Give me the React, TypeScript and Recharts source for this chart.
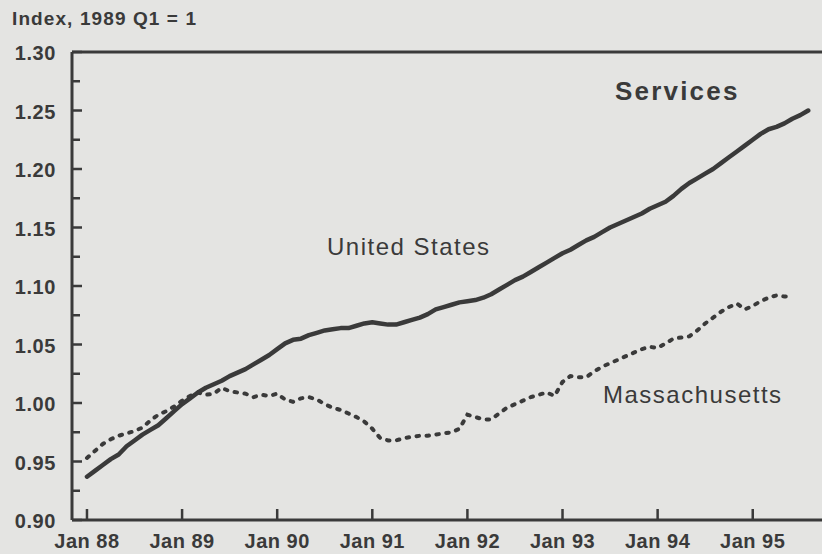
import React from 'react'
import { LineChart, Line, XAxis, YAxis, ReferenceLine } from 'recharts'

// monthly index values, month 0 = Jan 88
const unitedStates = [
  0.937, 0.942, 0.947, 0.952, 0.956, 0.963, 0.968, 0.973, 0.977, 0.981, 0.987, 0.993,
  0.999, 1.004, 1.009, 1.013, 1.016, 1.019, 1.023, 1.026, 1.029, 1.033, 1.037, 1.041,
  1.046, 1.051, 1.054, 1.055, 1.058, 1.060, 1.062, 1.063, 1.064, 1.064, 1.066, 1.068,
  1.069, 1.068, 1.067, 1.067, 1.069, 1.071, 1.073, 1.076, 1.080, 1.082, 1.084, 1.086,
  1.087, 1.088, 1.090, 1.093, 1.097, 1.101, 1.105, 1.108, 1.112, 1.116, 1.120, 1.124,
  1.128, 1.131, 1.135, 1.139, 1.142, 1.146, 1.150, 1.153, 1.156, 1.159, 1.162, 1.166,
  1.169, 1.172, 1.177, 1.183, 1.188, 1.192, 1.196, 1.200, 1.205, 1.210, 1.215, 1.220,
  1.225, 1.230, 1.234, 1.236, 1.239, 1.243, 1.246, 1.250,
]

const massachusetts = [
  0.953, 0.959, 0.965, 0.969, 0.972, 0.974, 0.976, 0.979, 0.985, 0.990, 0.993, 0.997,
  1.002, 1.006, 1.009, 1.007, 1.008, 1.013, 1.010, 1.009, 1.008, 1.005, 1.007, 1.006,
  1.008, 1.003, 1.001, 1.004, 1.005, 1.003, 0.999, 0.996, 0.994, 0.991, 0.988, 0.984,
  0.978, 0.970, 0.968, 0.968, 0.970, 0.971, 0.972, 0.972, 0.973, 0.974, 0.975, 0.978,
  0.990, 0.988, 0.986, 0.986, 0.991, 0.996, 0.999, 1.002, 1.005, 1.007, 1.009, 1.006,
  1.018, 1.023, 1.022, 1.022, 1.027, 1.031, 1.034, 1.037, 1.040, 1.043, 1.046, 1.048,
  1.047, 1.051, 1.055, 1.056, 1.057, 1.062, 1.068, 1.073, 1.078, 1.082, 1.085, 1.080,
  1.083, 1.087, 1.090, 1.092, 1.091, 1.091,
]

const xTicks = [0, 12, 24, 36, 48, 60, 72, 84]
const xTickLabels = ['Jan 88', 'Jan 89', 'Jan 90', 'Jan 91', 'Jan 92', 'Jan 93', 'Jan 94', 'Jan 95']
const yTicks = [0.9, 0.925, 0.95, 0.975, 1.0, 1.025, 1.05, 1.075, 1.1, 1.125, 1.15, 1.175, 1.2, 1.225, 1.25, 1.275, 1.3]
const yMajor = [0.9, 0.95, 1.0, 1.05, 1.1, 1.15, 1.2, 1.25, 1.3]

const data = unitedStates.map((v, i) => ({
  m: i,
  us: v,
  ma: i < massachusetts.length ? massachusetts[i] : null,
}))

const INK = '#3a3a3a'
const BG = '#e4e4e2'
const FONT = '"Liberation Sans", Arial, Helvetica, sans-serif'

function XTick(props: any) {
  const { x, y, payload } = props
  const label = xTickLabels[xTicks.indexOf(payload.value)]
  return (
    <g>
      <line x1={x} y1={y} x2={x} y2={y - 11} stroke={INK} strokeWidth={2.5} />
      <text x={x} y={y + 28} textAnchor="middle" fill={INK} fontFamily={FONT} fontWeight="bold" fontSize={20} letterSpacing={0.5}>
        {label}
      </text>
    </g>
  )
}

function YTick(props: any) {
  const { x, y, payload } = props
  const major = yMajor.some(v => Math.abs(v - payload.value) < 1e-6)
  return (
    <g>
      <line x1={x} y1={y} x2={x + (major ? 10 : 8)} y2={y} stroke={INK} strokeWidth={2.5} />
      {major && (
        <text x={x - 16} y={y + 8} textAnchor="end" fill={INK} fontFamily={FONT} fontWeight="bold" fontSize={20} letterSpacing={0.6}>
          {payload.value.toFixed(2)}
        </text>
      )}
    </g>
  )
}

export default function App() {
  return (
    <div style={{ position: 'absolute', left: 0, top: 0, width: 822, height: 554, background: BG, overflow: 'hidden' }}>
      <LineChart width={822} height={554} data={data} margin={{ top: 52, right: 0, bottom: 0, left: 0 }}>
        <XAxis
          dataKey="m"
          type="number"
          domain={[-1.89, 92.74]}
          ticks={xTicks}
          height={34}
          tickSize={0}
          tickMargin={0}
          tickLine={false}
          axisLine={{ stroke: INK, strokeWidth: 3 }}
          tick={<XTick />}
          allowDataOverflow
        />
        <YAxis
          type="number"
          domain={[0.9, 1.3]}
          ticks={yTicks}
          width={72}
          tickSize={0}
          tickMargin={0}
          tickLine={false}
          axisLine={{ stroke: INK, strokeWidth: 3 }}
          tick={<YTick />}
          allowDataOverflow
        />
        <ReferenceLine y={1.3} stroke={INK} strokeWidth={3} />
        <Line
          type="linear"
          dataKey="us"
          stroke={INK}
          strokeWidth={4.5}
          strokeLinejoin="round"
          strokeLinecap="round"
          dot={false}
          isAnimationActive={false}
        />
        <Line
          type="linear"
          dataKey="ma"
          stroke={INK}
          strokeWidth={4}
          strokeDasharray="2.5 7.5"
          strokeLinecap="round"
          dot={false}
          isAnimationActive={false}
        />
      </LineChart>
      <svg width={822} height={554} style={{ position: 'absolute', left: 0, top: 0, pointerEvents: 'none' }}>
        <text x={12} y={25} fill={INK} fontFamily={FONT} fontWeight="bold" fontSize={19} letterSpacing={1.1}>
          Index, 1989 Q1 = 1
        </text>
        <text x={615} y={100} fill={INK} fontFamily={FONT} fontWeight="bold" fontSize={26} letterSpacing={2.2}>
          Services
        </text>
        <text x={327} y={255} fill={INK} fontFamily={FONT} fontSize={24} letterSpacing={1.5}>
          United States
        </text>
        <text x={603} y={403} fill={INK} fontFamily={FONT} fontSize={24} letterSpacing={1.5}>
          Massachusetts
        </text>
      </svg>
    </div>
  )
}
